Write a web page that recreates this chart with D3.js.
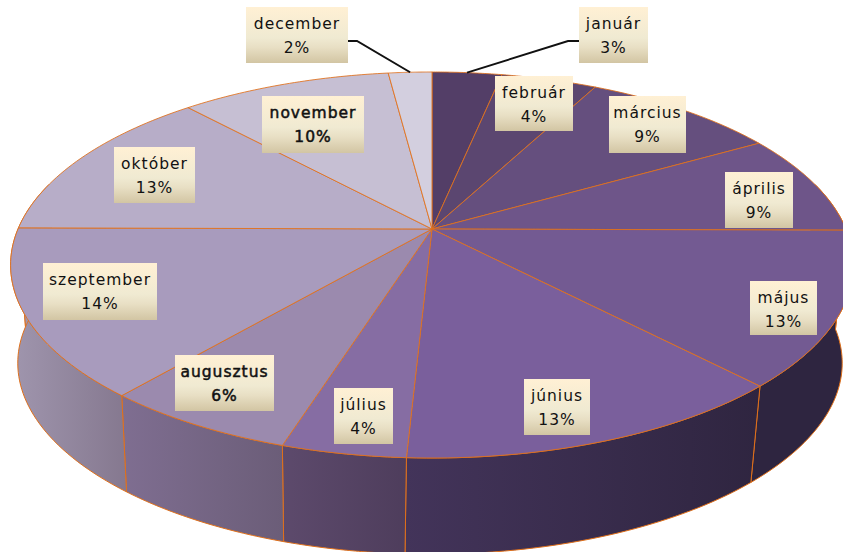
<!DOCTYPE html>
<html><head><meta charset="utf-8">
<style>html,body{margin:0;padding:0;background:#fff}svg{display:block}</style>
<script src="https://cdn.jsdelivr.net/npm/d3@7"></script></head>
<body><svg id="c" width="843" height="552"></svg>
<script>
const categories=["január","február","március","április","május","június","július","augusztus","szeptember","október","november","december"];
const values=[3.2,4.4,9.0,8.5,12.9,12.8,4.0,6.3,14.0,13.2,9.7,2.0];
const topColors=["#533e67","#5b4670","#654f7e","#6e5589","#735a92","#7a5f9c","#866da3","#9b8aae","#a89bbd","#b7adc8","#c6bfd3","#d3cfdf"];
const wallStart=["#2e2540","#2e2540","#2e2540","#2e2540","#2e2540","#43345a","#5d4a6c","#7f6e91","#a096ae","#a096ae","#a096ae","#a096ae"];
const wallEnd=["#2e2540","#2e2540","#2e2540","#2e2540","#2e2540","#2f2540","#4e3d5c","#6b5d78","#85788f","#a096ae","#a096ae","#a096ae"];
const labelBoxes=[[579,7,69,56],[495,76,78,55],[609,96,77,57],[725,172,68,56],[750,281,67,54],[524,379,66,56],[334,388,59,56],[175,355,99,56],[43,263,114,57],[114,147,81,56],[262,96,102,57],[246,7,102,56]];
const boldLabels=["november","augusztus"];
const leaderLabels=["január","december"];

const topRim={cx:432,cy:229,a:414,b:186.3,kx:0.1865,ky:0.1865};
const baseRim={cx:430,cy:328,a:405,b:181,kx:0.1865,ky:0.2};
const project=(r,t)=>{const u=Math.sin(t),v=Math.cos(t);return [r.cx+r.a*u/(1+r.kx*v),r.cy-r.b*v/(1+r.ky*v)];};
const arcPts=(r,t0,t1)=>d3.range(0,41).map(i=>project(r,t0+(t1-t0)*i/40));
const line=d3.line();
const pie=d3.pie().sort(null).value(d=>d).startAngle(0).endAngle(2*Math.PI);
const arcs=pie(values);

const svg=d3.select("#c");
const defs=svg.append("defs");
const lg=defs.append("linearGradient").attr("id","lab").attr("x1",0).attr("y1",0).attr("x2",0).attr("y2",1);
[[0,"#fff0d4"],[.55,"#f0ead2"],[.72,"#e8dfc4"],[1,"#d2c5a3"]].forEach(s=>lg.append("stop").attr("offset",s[0]).attr("stop-color",s[1]));
arcs.forEach((d,i)=>{const g=defs.append("linearGradient").attr("id","w"+i).attr("gradientUnits","objectBoundingBox");
 g.append("stop").attr("offset",0).attr("stop-color",wallStart[i]);
 g.append("stop").attr("offset",1).attr("stop-color",wallEnd[i]);});

const edge="#e0701a";
const lo=Math.PI*0.42,hi=Math.PI*1.58;
const walls=arcs.map((d,i)=>({i,t0:Math.max(d.startAngle,lo),t1:Math.min(d.endAngle,hi)})).filter(w=>w.t1>w.t0);
svg.append("g").selectAll("path").data(walls).join("path")
 .attr("d",w=>line(arcPts(topRim,w.t0,w.t1).concat(arcPts(baseRim,w.t0,w.t1).reverse()))+"Z")
 .attr("fill",w=>`url(#w${w.i})`).attr("stroke",edge).attr("stroke-width",1);
svg.append("g").selectAll("path").data(arcs).join("path")
 .attr("d",d=>line([[topRim.cx,topRim.cy]].concat(arcPts(topRim,d.startAngle,d.endAngle)))+"Z")
 .attr("fill",(d,i)=>topColors[i]).attr("stroke",edge).attr("stroke-width",1).attr("stroke-opacity",.85);
svg.append("g").selectAll("path").data(arcs.filter((d,i)=>leaderLabels.includes(categories[i]))).join("path")
 .attr("d",d=>{const i=d.index,b=labelBoxes[i],m=(d.startAngle+d.endAngle)/2,p=project(topRim,m);
   const right=b[0]>topRim.cx,ex=right?b[0]:b[0]+b[2],y=b[1]+34;
   return line([[ex,y],[ex+(right?-11:9),y],p]);})
 .attr("fill","none").attr("stroke","#111").attr("stroke-width",2);
const lab=svg.append("g").selectAll("g").data(arcs).join("g").attr("transform",(d,i)=>`translate(${labelBoxes[i][0]},${labelBoxes[i][1]})`);
lab.append("rect").attr("width",(d,i)=>labelBoxes[i][2]).attr("height",(d,i)=>labelBoxes[i][3]).attr("fill","url(#lab)");
[0,1].forEach(row=>lab.append("text").attr("x",(d,i)=>labelBoxes[i][2]/2).attr("y",row?46:22).attr("text-anchor","middle")
 .attr("font-family","'DejaVu Sans',sans-serif").attr("font-size",15.5).attr("letter-spacing",1).attr("fill","#111")
 .attr("stroke",(d,i)=>boldLabels.includes(categories[i])?"#111":"none").attr("stroke-width",.5)
 .text((d,i)=>row?Math.round(values[i])+"%":categories[i]));
</script></body></html>
